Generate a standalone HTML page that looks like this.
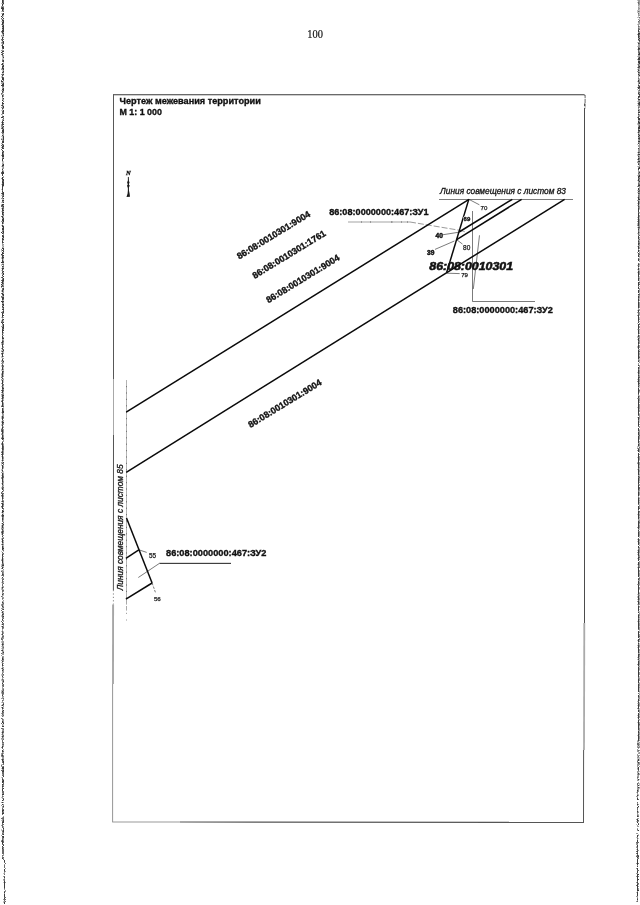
<!DOCTYPE html>
<html lang="ru">
<head>
<meta charset="utf-8">
<title>Чертеж межевания территории</title>
<style>
  html, body { margin: 0; padding: 0; background: #ffffff; }
  body { width: 640px; height: 905px; overflow: hidden; font-family: "Liberation Sans", sans-serif; }
  svg { display: block; position: absolute; left: 0; top: 0; will-change: transform; filter: grayscale(1); }
  text { font-family: "Liberation Sans", sans-serif; fill: #111; }
  .b { font-weight: bold; stroke: #111; stroke-width: 0.36; }
  .i { font-style: italic; }
  .it { font-style: italic; stroke: #1a1a1a; stroke-width: 0.32; }
  .serif { font-family: "Liberation Serif", serif; }
  .thick { stroke: #0a0a0a; stroke-width: 1.5; fill: none; stroke-linecap: butt; }
  .thin { stroke: #333; stroke-width: 0.65; fill: none; }
  .n { stroke: #222; stroke-width: 0.25; }
  .frame { stroke: #333; stroke-width: 1; fill: none; }
</style>
</head>
<body>
<svg width="640" height="905" viewBox="0 0 640 905">
  <rect x="0" y="0" width="640" height="905" fill="#ffffff"/>

  <!-- SCAN-EDGES -->
  <g id="scan-edges" fill="none" stroke-width="1" shape-rendering="crispEdges">
    <path stroke="#3c3c3c" d="M2 0.5h1M2 1.5h1M2 2.5h1M3 3.5h1M2 4.5h1M2 5.5h1M2 7.5h1M2 8.5h1M3 8.5h1M1 8.5h1M2 9.5h1M2 10.5h1M3 13.5h1M2 14.5h1M3 14.5h1M2 15.5h1M1 16.5h1M2 17.5h1M3 18.5h1M2 20.5h1M3 20.5h1M3 21.5h1M2 22.5h1M3 22.5h1M2 23.5h1M2 24.5h1M3 25.5h1M2 26.5h1M3 26.5h1M3 27.5h1M2 28.5h1M3 28.5h1M3 29.5h1M2 30.5h1M3 30.5h1M2 31.5h1M3 31.5h1M2 32.5h1M3 33.5h1M3 35.5h1M2 37.5h1M2 38.5h1M2 40.5h1M3 41.5h1M3 42.5h1M3 43.5h1M2 45.5h1M2 46.5h1M3 46.5h1M2 47.5h1M3 47.5h1M3 48.5h1M2 51.5h1M3 51.5h1M1 52.5h1M2 54.5h1M3 57.5h1M3 60.5h1M3 61.5h1M2 63.5h1M2 64.5h1M3 65.5h1M2 66.5h1M3 66.5h1M2 67.5h1M2 68.5h1M3 68.5h1M3 69.5h1M3 71.5h1M2 72.5h1M3 74.5h1M2 75.5h1M2 77.5h1M2 78.5h1M3 78.5h1M2 79.5h1M3 79.5h1M2 81.5h1M1 81.5h1M3 83.5h1M2 84.5h1M3 84.5h1M2 85.5h1M3 85.5h1M1 85.5h1M3 88.5h1M2 89.5h1M3 89.5h1M3 90.5h1M2 91.5h1M2 95.5h1M2 96.5h1M3 98.5h1M2 100.5h1M2 102.5h1M2 103.5h1M3 103.5h1M2 105.5h1M3 106.5h1M3 107.5h1M2 108.5h1M3 110.5h1M3 111.5h1M3 113.5h1M3 116.5h1M2 117.5h1M1 117.5h1M3 120.5h1M2 121.5h1M2 122.5h1M2 123.5h1M2 124.5h1M3 124.5h1M3 126.5h1M2 127.5h1M2 128.5h1M3 129.5h1M2 130.5h1M3 130.5h1M2 131.5h1M3 131.5h1M3 132.5h1M2 135.5h1M3 136.5h1M3 137.5h1M3 138.5h1M3 139.5h1M2 141.5h1M3 141.5h1M2 142.5h1M3 142.5h1M2 144.5h1M3 145.5h1M2 146.5h1M3 146.5h1M2 147.5h1M2 148.5h1M3 148.5h1M2 150.5h1M3 151.5h1M2 152.5h1M2 153.5h1M2 154.5h1M2 155.5h1M3 155.5h1M2 156.5h1M3 156.5h1M3 158.5h1M2 159.5h1M2 160.5h1M3 164.5h1M2 165.5h1M3 165.5h1M2 169.5h1M2 171.5h1M2 172.5h1M3 172.5h1M2 173.5h1M3 173.5h1M2 174.5h1M2 175.5h1M2 177.5h1M2 178.5h1M2 179.5h1M3 179.5h1M3 180.5h1M2 181.5h1M2 182.5h1M3 182.5h1M3 183.5h1M2 184.5h1M3 184.5h1M2 185.5h1M3 185.5h1M2 186.5h1M2 187.5h1M2 188.5h1M2 189.5h1M2 191.5h1M3 192.5h1M2 193.5h1M3 193.5h1M3 194.5h1M3 196.5h1M3 198.5h1M2 200.5h1M3 200.5h1M3 202.5h1M2 204.5h1M3 204.5h1M2 205.5h1M3 206.5h1M2 208.5h1M2 209.5h1M2 210.5h1M3 210.5h1M2 212.5h1M3 212.5h1M2 213.5h1M2 214.5h1M2 216.5h1M2 217.5h1M3 218.5h1M2 219.5h1M3 219.5h1M2 220.5h1M3 220.5h1M3 221.5h1M2 222.5h1M2 223.5h1M2 225.5h1M2 226.5h1M3 226.5h1M3 227.5h1M2 228.5h1M3 228.5h1M2 229.5h1M3 229.5h1M3 231.5h1M3 232.5h1M1 232.5h1M2 233.5h1M2 235.5h1M2 236.5h1M3 236.5h1M3 237.5h1M2 238.5h1M2 239.5h1M3 239.5h1M2 241.5h1M2 242.5h1M2 248.5h1M3 248.5h1M3 249.5h1M2 250.5h1M3 251.5h1M2 252.5h1M2 253.5h1M3 253.5h1M1 254.5h1M2 255.5h1M3 255.5h1M2 256.5h1M2 257.5h1M3 257.5h1M2 258.5h1M2 260.5h1M2 261.5h1M2 262.5h1M3 262.5h1M1 262.5h1M2 266.5h1M2 268.5h1M3 268.5h1M2 269.5h1M3 271.5h1M2 272.5h1M3 273.5h1M3 274.5h1M2 275.5h1M3 276.5h1M2 277.5h1M3 278.5h1M3 279.5h1M2 280.5h1M3 280.5h1M2 281.5h1M2 282.5h1M2 283.5h1M1 284.5h1M2 285.5h1M1 286.5h1M3 288.5h1M3 289.5h1M2 290.5h1M2 291.5h1M2 293.5h1M2 294.5h1M3 294.5h1M3 295.5h1M2 297.5h1M3 297.5h1M2 298.5h1M3 298.5h1M2 299.5h1M2 301.5h1M3 301.5h1M1 301.5h1M2 302.5h1M2 304.5h1M3 304.5h1M3 305.5h1M2 306.5h1M3 307.5h1M2 309.5h1M3 309.5h1M3 311.5h1M3 312.5h1M2 313.5h1M2 314.5h1M2 315.5h1M3 315.5h1M2 316.5h1M3 319.5h1M2 320.5h1M3 322.5h1M1 322.5h1M2 323.5h1M3 324.5h1M3 325.5h1M3 326.5h1M2 327.5h1M3 327.5h1M3 328.5h1M2 329.5h1M2 330.5h1M3 330.5h1M2 331.5h1M2 332.5h1M2 334.5h1M2 336.5h1M2 337.5h1M2 338.5h1M3 338.5h1M2 341.5h1M2 342.5h1M2 344.5h1M2 345.5h1M2 346.5h1M2 348.5h1M3 350.5h1M2 351.5h1M2 353.5h1M2 354.5h1M2 355.5h1M2 356.5h1M2 359.5h1M2 360.5h1M3 361.5h1M2 365.5h1M2 367.5h1M2 368.5h1M2 369.5h1M2 371.5h1M2 372.5h1M2 373.5h1M2 374.5h1M2 375.5h1M2 376.5h1M2 378.5h1M2 380.5h1M2 381.5h1M2 382.5h1M2 383.5h1M2 385.5h1M2 387.5h1M2 388.5h1M3 388.5h1M2 390.5h1M2 391.5h1M2 392.5h1M2 395.5h1M3 395.5h1M2 396.5h1M2 397.5h1M2 398.5h1M2 400.5h1M2 401.5h1M2 402.5h1M2 403.5h1M2 404.5h1M2 405.5h1M2 406.5h1M2 408.5h1M2 409.5h1M2 410.5h1M2 411.5h1M3 411.5h1M2 412.5h1M3 412.5h1M2 416.5h1M2 417.5h1M2 418.5h1M2 419.5h1M2 421.5h1M2 422.5h1M3 422.5h1M2 423.5h1M2 425.5h1M2 427.5h1M2 428.5h1M2 430.5h1M2 431.5h1M2 432.5h1M2 433.5h1M2 435.5h1M2 436.5h1M2 437.5h1M2 438.5h1M3 438.5h1M2 439.5h1M2 442.5h1M2 443.5h1M2 444.5h1M2 445.5h1M2 446.5h1M2 447.5h1M2 448.5h1M2 449.5h1M2 451.5h1M2 452.5h1M2 453.5h1M2 454.5h1M2 455.5h1M2 456.5h1M2 457.5h1M2 458.5h1M2 460.5h1M3 462.5h1M2 463.5h1M2 465.5h1M2 466.5h1M2 467.5h1M2 468.5h1M2 470.5h1M2 473.5h1M2 474.5h1M2 475.5h1M2 476.5h1M2 477.5h1M2 478.5h1M2 479.5h1M2 480.5h1M2 481.5h1M2 483.5h1M2 484.5h1M2 488.5h1M2 489.5h1M2 491.5h1M2 494.5h1M2 495.5h1M2 496.5h1M2 497.5h1M2 498.5h1M2 501.5h1M2 503.5h1M2 504.5h1M2 505.5h1M2 506.5h1M2 507.5h1M2 508.5h1M2 510.5h1M2 511.5h1M3 511.5h1M2 512.5h1M2 514.5h1M2 515.5h1M3 515.5h1M2 516.5h1M2 518.5h1M2 519.5h1M2 523.5h1M3 524.5h1M2 525.5h1M2 526.5h1M2 527.5h1M2 529.5h1M2 531.5h1M2 532.5h1M2 533.5h1M2 534.5h1M2 536.5h1M2 539.5h1M2 540.5h1M2 541.5h1M2 542.5h1M2 544.5h1M2 546.5h1M2 547.5h1M2 548.5h1M3 548.5h1M2 549.5h1M2 554.5h1M2 555.5h1M2 557.5h1M2 558.5h1M2 559.5h1M2 560.5h1M2 561.5h1M2 562.5h1M2 565.5h1M3 565.5h1M2 567.5h1M2 568.5h1M2 574.5h1M2 577.5h1M2 587.5h1M2 594.5h1M2 602.5h1M2 606.5h1M3 609.5h1M2 612.5h1M2 614.5h1M3 616.5h1M2 619.5h1M2 622.5h1M2 624.5h1M2 626.5h1M2 634.5h1M2 644.5h1M2 650.5h1M3 652.5h1M2 658.5h1M2 659.5h1M2 661.5h1M2 664.5h1M2 665.5h1M2 668.5h1M2 670.5h1M2 676.5h1M3 681.5h1M2 683.5h1M2 691.5h1M2 695.5h1M3 704.5h1M2 705.5h1M2 707.5h1M2 708.5h1M3 710.5h1M2 711.5h1M2 721.5h1M2 722.5h1M3 723.5h1M2 726.5h1M3 726.5h1M2 732.5h1M2 736.5h1M2 746.5h1M2 747.5h1M2 750.5h1M2 751.5h1M2 755.5h1M2 759.5h1M2 760.5h1M3 761.5h1M3 762.5h1M2 767.5h1M3 767.5h1M2 768.5h1M3 768.5h1M3 770.5h1M2 771.5h1M3 771.5h1M3 776.5h1M2 779.5h1M3 780.5h1M2 781.5h1M3 781.5h1M2 782.5h1M2 784.5h1M2 786.5h1M3 788.5h1M2 789.5h1M2 790.5h1M2 794.5h1M3 794.5h1M3 799.5h1M2 800.5h1M2 802.5h1M2 804.5h1M3 806.5h1M2 810.5h1M3 810.5h1M2 811.5h1M2 813.5h1M3 813.5h1M3 820.5h1M3 821.5h1M2 822.5h1M3 822.5h1M3 828.5h1M3 830.5h1M3 831.5h1M3 834.5h1M2 836.5h1M3 836.5h1M3 837.5h1M2 840.5h1M2 841.5h1M2 842.5h1M2 843.5h1M3 845.5h1M2 846.5h1M2 848.5h1M2 858.5h1M4 860.5h1M4 861.5h1M4 869.5h1M4 870.5h1M4 877.5h1M4 881.5h1M4 882.5h1M4 883.5h1M4 884.5h1M4 885.5h1M4 886.5h1M4 887.5h1M4 892.5h1M4 894.5h1M4 895.5h1M4 896.5h1M4 898.5h1M4 902.5h1M4 903.5h1M638 30.5h1M638 31.5h1M638 33.5h1M639 33.5h1M638 34.5h1M638 35.5h1M638 36.5h1M638 37.5h1M639 38.5h1M638 39.5h1M639 40.5h1M638 43.5h1M638 48.5h1M639 48.5h1M638 49.5h1M639 53.5h1M638 54.5h1M639 54.5h1M639 57.5h1M638 58.5h1M639 58.5h1M638 59.5h1M639 59.5h1M638 61.5h1M639 61.5h1M638 62.5h1M639 62.5h1M639 63.5h1M639 66.5h1M638 67.5h1M638 70.5h1M638 72.5h1M638 74.5h1M639 75.5h1M638 80.5h1M638 81.5h1M639 83.5h1M638 85.5h1M639 86.5h1M638 87.5h1M639 87.5h1M638 88.5h1M638 93.5h1M639 94.5h1M638 96.5h1M639 96.5h1M638 97.5h1M638 99.5h1M639 99.5h1M639 102.5h1M638 103.5h1M639 103.5h1M639 104.5h1M638 110.5h1M638 112.5h1M639 112.5h1M638 114.5h1M638 117.5h1M638 118.5h1M639 118.5h1M638 119.5h1M639 119.5h1M638 121.5h1M638 122.5h1M639 122.5h1M639 123.5h1M639 126.5h1M638 127.5h1M639 127.5h1M638 128.5h1M639 128.5h1M638 130.5h1M639 130.5h1M638 132.5h1M638 134.5h1M639 135.5h1M638 136.5h1M638 138.5h1M639 138.5h1M638 141.5h1M639 141.5h1M638 143.5h1M638 148.5h1M638 152.5h1M638 154.5h1M639 154.5h1M638 156.5h1M638 158.5h1M638 159.5h1M638 161.5h1M639 161.5h1M638 164.5h1M639 167.5h1M638 168.5h1M639 168.5h1M638 169.5h1M639 172.5h1M639 175.5h1M638 176.5h1M639 176.5h1M638 177.5h1M638 179.5h1M638 180.5h1M639 181.5h1M638 185.5h1M639 185.5h1M638 188.5h1M638 189.5h1M638 191.5h1M638 193.5h1M638 197.5h1M638 198.5h1M638 199.5h1M639 199.5h1M638 201.5h1M638 202.5h1M638 203.5h1M638 204.5h1M638 206.5h1M638 208.5h1M638 209.5h1M638 210.5h1M638 211.5h1M638 213.5h1M638 214.5h1M638 215.5h1M638 216.5h1M638 217.5h1M638 218.5h1M638 219.5h1M638 220.5h1M638 221.5h1M638 222.5h1M638 223.5h1M638 224.5h1M638 225.5h1M638 227.5h1M638 229.5h1M638 232.5h1M638 236.5h1M638 237.5h1M638 238.5h1M638 241.5h1M638 243.5h1M638 244.5h1M638 246.5h1M638 247.5h1M638 248.5h1M638 250.5h1M638 251.5h1M638 253.5h1M638 255.5h1M638 256.5h1M638 259.5h1M638 260.5h1M638 264.5h1M638 266.5h1M638 268.5h1M638 269.5h1M638 271.5h1M638 272.5h1M638 273.5h1M638 274.5h1M638 275.5h1M638 276.5h1M638 278.5h1M638 279.5h1M638 280.5h1M638 282.5h1M638 283.5h1M638 284.5h1M638 285.5h1M638 287.5h1M638 288.5h1M638 290.5h1M638 291.5h1M638 292.5h1M638 294.5h1M638 296.5h1M638 297.5h1M638 299.5h1M638 300.5h1M638 302.5h1M638 303.5h1M638 304.5h1M638 305.5h1M638 306.5h1M638 307.5h1M638 310.5h1M638 311.5h1M638 315.5h1M638 316.5h1M638 317.5h1M638 318.5h1M638 319.5h1M638 320.5h1M638 322.5h1M638 324.5h1M638 325.5h1M638 326.5h1M638 327.5h1M638 328.5h1M638 330.5h1M638 331.5h1M638 332.5h1M638 333.5h1M638 335.5h1M638 336.5h1M638 338.5h1M638 339.5h1M638 340.5h1M638 342.5h1M638 343.5h1M638 345.5h1M638 346.5h1M638 347.5h1M638 348.5h1M638 350.5h1M638 351.5h1M638 352.5h1M638 353.5h1M638 354.5h1M638 355.5h1M638 356.5h1M638 357.5h1M638 358.5h1M638 361.5h1M638 365.5h1M638 367.5h1M638 368.5h1M638 370.5h1M638 371.5h1M638 372.5h1M638 373.5h1M638 375.5h1M638 377.5h1M638 378.5h1M638 379.5h1M638 380.5h1M638 381.5h1M638 382.5h1M638 383.5h1M638 384.5h1M638 386.5h1M638 388.5h1M638 389.5h1M638 390.5h1M638 391.5h1M638 392.5h1M638 393.5h1M638 396.5h1M638 397.5h1M638 399.5h1M638 400.5h1M638 401.5h1M638 402.5h1M638 403.5h1M638 404.5h1M638 405.5h1M638 406.5h1M638 407.5h1M638 408.5h1M638 409.5h1M638 410.5h1M638 411.5h1M638 412.5h1M638 413.5h1M638 414.5h1M638 417.5h1M638 418.5h1M638 419.5h1M638 421.5h1M638 422.5h1M638 423.5h1M638 424.5h1M638 425.5h1M638 428.5h1M638 429.5h1M638 430.5h1M638 432.5h1M638 433.5h1M638 434.5h1M638 436.5h1M638 437.5h1M638 438.5h1M638 439.5h1M638 440.5h1M638 441.5h1M638 442.5h1M638 444.5h1M638 445.5h1M638 449.5h1M638 450.5h1M638 451.5h1M638 453.5h1M638 454.5h1M638 455.5h1M638 456.5h1M638 457.5h1M638 458.5h1M638 459.5h1M638 460.5h1M638 461.5h1M638 462.5h1M638 463.5h1M638 464.5h1M638 465.5h1M638 466.5h1M638 467.5h1M638 469.5h1M638 470.5h1M638 471.5h1M638 472.5h1M638 473.5h1M638 474.5h1M638 476.5h1M638 478.5h1M638 479.5h1M638 480.5h1M638 481.5h1M638 482.5h1M638 483.5h1M638 485.5h1M638 486.5h1M638 487.5h1M638 488.5h1M638 489.5h1M638 492.5h1M638 493.5h1M638 494.5h1M638 495.5h1M638 498.5h1M638 499.5h1M638 500.5h1M638 501.5h1M638 502.5h1M638 503.5h1M638 506.5h1M638 507.5h1M638 508.5h1M638 509.5h1M638 511.5h1M638 512.5h1M638 513.5h1M638 514.5h1M638 515.5h1M638 516.5h1M638 517.5h1M638 518.5h1M638 521.5h1M638 522.5h1M638 523.5h1M638 524.5h1M638 525.5h1M638 526.5h1M638 527.5h1M638 528.5h1M638 530.5h1M638 532.5h1M638 533.5h1M638 534.5h1M638 535.5h1M638 536.5h1M638 539.5h1M638 540.5h1M638 541.5h1M638 542.5h1M638 543.5h1M638 544.5h1M638 546.5h1M638 547.5h1M638 550.5h1M638 551.5h1M638 552.5h1M638 553.5h1M638 554.5h1M638 555.5h1M638 557.5h1M638 558.5h1M638 559.5h1M638 560.5h1M638 562.5h1M638 563.5h1M638 564.5h1M638 567.5h1M638 568.5h1M638 569.5h1M638 570.5h1M638 571.5h1M638 572.5h1M638 573.5h1M638 574.5h1M638 575.5h1M638 576.5h1M638 579.5h1M638 581.5h1M638 582.5h1M638 583.5h1M638 585.5h1M638 586.5h1M638 587.5h1M638 588.5h1M638 589.5h1M638 590.5h1M638 591.5h1M638 592.5h1M638 593.5h1M638 596.5h1M638 597.5h1M638 598.5h1M638 599.5h1M638 601.5h1M638 602.5h1M638 603.5h1M638 606.5h1M638 607.5h1M638 608.5h1M638 609.5h1M638 610.5h1M638 612.5h1M638 615.5h1M638 616.5h1M638 617.5h1M638 619.5h1M638 620.5h1M638 621.5h1M638 622.5h1M638 623.5h1M638 624.5h1M638 625.5h1M638 626.5h1M638 627.5h1M638 628.5h1M638 631.5h1M638 632.5h1M638 633.5h1M638 634.5h1M638 635.5h1M638 636.5h1M638 637.5h1M638 639.5h1M638 640.5h1M638 641.5h1M638 643.5h1M638 645.5h1M638 646.5h1M638 647.5h1M638 648.5h1M638 649.5h1M638 650.5h1M638 651.5h1M638 652.5h1M638 654.5h1M638 655.5h1M638 656.5h1M638 657.5h1M638 659.5h1M638 661.5h1M638 662.5h1M638 663.5h1M638 664.5h1M638 665.5h1M638 667.5h1M638 668.5h1M638 669.5h1M638 670.5h1M638 671.5h1M638 672.5h1M638 673.5h1M638 674.5h1M638 675.5h1M638 676.5h1M638 679.5h1M638 680.5h1M638 681.5h1M638 682.5h1M638 684.5h1M638 685.5h1M638 686.5h1M638 687.5h1M638 688.5h1M638 689.5h1M638 690.5h1M638 691.5h1M638 695.5h1M638 696.5h1M638 699.5h1M638 700.5h1M638 702.5h1M638 704.5h1M638 705.5h1M638 706.5h1M638 707.5h1M638 708.5h1M638 710.5h1M638 711.5h1M638 713.5h1M638 714.5h1M638 715.5h1M638 716.5h1M638 717.5h1M638 718.5h1M638 720.5h1M638 721.5h1M638 722.5h1M638 723.5h1M638 724.5h1M638 725.5h1M638 726.5h1M638 727.5h1M638 728.5h1M638 729.5h1M638 731.5h1M638 732.5h1M638 734.5h1M638 735.5h1M638 736.5h1M638 737.5h1M638 738.5h1M638 739.5h1M638 740.5h1M638 759.5h1M638 760.5h1M638 762.5h1M638 767.5h1M638 768.5h1M638 769.5h1M638 773.5h1M638 779.5h1M638 785.5h1M638 787.5h1M637 790.5h1M637 795.5h1M637 798.5h1M637 799.5h1M637 804.5h1M638 806.5h1M637 807.5h1M637 811.5h1M637 816.5h1M637 819.5h1M637 820.5h1M637 822.5h1M638 824.5h1M638 830.5h1M637 835.5h1M637 836.5h1M637 840.5h1M637 841.5h1M637 845.5h1M637 846.5h1M637 849.5h1M637 851.5h1M637 853.5h1M637 855.5h1M638 856.5h1M637 857.5h1M637 859.5h1M637 860.5h1M637 861.5h1M637 862.5h1M637 863.5h1M637 864.5h1M637 866.5h1M637 868.5h1M637 869.5h1M637 871.5h1M637 872.5h1M637 874.5h1M638 874.5h1M637 875.5h1M637 876.5h1M637 877.5h1M637 878.5h1M637 879.5h1M638 879.5h1M637 880.5h1M637 882.5h1M637 884.5h1M637 885.5h1M637 886.5h1M637 887.5h1M637 888.5h1M637 889.5h1M637 890.5h1M638 890.5h1M637 892.5h1M637 893.5h1M637 894.5h1M637 895.5h1M637 899.5h1"/>
    <path stroke="#6a6a6a" d="M3 0.5h1M3 1.5h1M3 2.5h1M3 7.5h1M1 7.5h1M3 9.5h1M3 11.5h1M1 18.5h1M2 19.5h1M3 23.5h1M1 31.5h1M2 33.5h1M3 34.5h1M2 39.5h1M3 39.5h1M1 39.5h1M2 42.5h1M2 44.5h1M2 48.5h1M2 53.5h1M3 53.5h1M1 54.5h1M2 55.5h1M2 60.5h1M2 61.5h1M1 64.5h1M3 72.5h1M2 74.5h1M3 77.5h1M3 80.5h1M1 80.5h1M2 86.5h1M3 86.5h1M2 92.5h1M1 93.5h1M3 101.5h1M2 104.5h1M1 105.5h1M2 111.5h1M2 112.5h1M3 112.5h1M2 113.5h1M2 116.5h1M3 118.5h1M3 122.5h1M2 125.5h1M1 128.5h1M2 132.5h1M2 133.5h1M1 139.5h1M3 140.5h1M1 145.5h1M1 149.5h1M3 152.5h1M3 154.5h1M2 158.5h1M2 166.5h1M1 172.5h1M1 173.5h1M2 180.5h1M3 181.5h1M2 183.5h1M2 190.5h1M2 192.5h1M1 193.5h1M2 194.5h1M3 195.5h1M2 196.5h1M2 197.5h1M2 201.5h1M1 205.5h1M2 206.5h1M1 206.5h1M3 207.5h1M3 208.5h1M2 211.5h1M3 214.5h1M3 215.5h1M1 216.5h1M3 230.5h1M2 231.5h1M3 233.5h1M3 235.5h1M2 240.5h1M3 242.5h1M3 250.5h1M2 254.5h1M2 259.5h1M3 261.5h1M2 264.5h1M3 264.5h1M3 266.5h1M2 270.5h1M2 271.5h1M1 277.5h1M2 279.5h1M1 280.5h1M3 281.5h1M1 282.5h1M3 283.5h1M2 286.5h1M3 286.5h1M2 288.5h1M2 289.5h1M1 293.5h1M1 296.5h1M3 299.5h1M2 307.5h1M3 308.5h1M3 310.5h1M2 312.5h1M1 312.5h1M2 317.5h1M2 319.5h1M2 321.5h1M2 322.5h1M2 328.5h1M2 333.5h1M2 340.5h1M3 341.5h1M1 342.5h1M2 343.5h1M2 347.5h1M2 349.5h1M3 349.5h1M1 353.5h1M2 362.5h1M2 364.5h1M2 366.5h1M3 366.5h1M3 371.5h1M1 377.5h1M2 384.5h1M3 384.5h1M2 386.5h1M2 389.5h1M3 390.5h1M1 390.5h1M2 394.5h1M3 397.5h1M2 399.5h1M1 401.5h1M3 406.5h1M1 406.5h1M2 413.5h1M3 417.5h1M2 424.5h1M2 426.5h1M2 429.5h1M1 429.5h1M1 430.5h1M1 431.5h1M2 434.5h1M1 438.5h1M3 446.5h1M3 447.5h1M3 448.5h1M3 449.5h1M2 450.5h1M1 452.5h1M1 454.5h1M2 459.5h1M3 464.5h1M2 471.5h1M3 476.5h1M3 477.5h1M2 482.5h1M2 486.5h1M2 487.5h1M3 487.5h1M3 490.5h1M1 492.5h1M2 493.5h1M3 493.5h1M1 493.5h1M1 495.5h1M2 499.5h1M2 500.5h1M3 501.5h1M1 503.5h1M3 504.5h1M1 506.5h1M3 508.5h1M3 516.5h1M2 517.5h1M2 520.5h1M2 521.5h1M3 522.5h1M2 530.5h1M3 531.5h1M1 532.5h1M2 538.5h1M3 538.5h1M3 550.5h1M2 552.5h1M3 553.5h1M2 556.5h1M2 563.5h1M2 564.5h1M3 564.5h1M1 571.5h1M2 572.5h1M2 573.5h1M3 574.5h1M2 575.5h1M3 575.5h1M2 579.5h1M3 579.5h1M2 580.5h1M2 581.5h1M2 582.5h1M3 583.5h1M2 584.5h1M2 585.5h1M2 588.5h1M2 590.5h1M3 590.5h1M2 591.5h1M3 593.5h1M1 596.5h1M2 598.5h1M3 603.5h1M2 604.5h1M2 605.5h1M3 607.5h1M2 609.5h1M1 610.5h1M2 611.5h1M3 613.5h1M3 614.5h1M2 615.5h1M2 616.5h1M2 617.5h1M3 618.5h1M2 620.5h1M1 621.5h1M3 623.5h1M3 624.5h1M2 627.5h1M3 627.5h1M2 628.5h1M2 631.5h1M2 632.5h1M2 633.5h1M2 636.5h1M3 636.5h1M2 637.5h1M1 638.5h1M2 639.5h1M1 639.5h1M2 643.5h1M3 644.5h1M2 645.5h1M3 647.5h1M1 650.5h1M1 653.5h1M2 657.5h1M3 659.5h1M2 663.5h1M3 669.5h1M2 673.5h1M3 674.5h1M2 679.5h1M3 680.5h1M3 684.5h1M2 685.5h1M3 685.5h1M3 686.5h1M3 689.5h1M3 690.5h1M2 692.5h1M3 692.5h1M2 693.5h1M3 693.5h1M2 694.5h1M3 698.5h1M2 700.5h1M3 703.5h1M2 712.5h1M3 712.5h1M2 713.5h1M2 714.5h1M3 715.5h1M2 716.5h1M1 718.5h1M2 719.5h1M3 722.5h1M1 723.5h1M2 728.5h1M1 728.5h1M3 729.5h1M2 731.5h1M3 731.5h1M3 732.5h1M2 733.5h1M2 734.5h1M3 735.5h1M3 736.5h1M2 737.5h1M3 739.5h1M2 740.5h1M2 741.5h1M2 742.5h1M3 742.5h1M2 744.5h1M3 744.5h1M2 748.5h1M3 751.5h1M2 753.5h1M2 754.5h1M1 755.5h1M2 756.5h1M3 756.5h1M3 759.5h1M2 761.5h1M2 762.5h1M3 763.5h1M3 764.5h1M1 765.5h1M3 766.5h1M3 769.5h1M2 770.5h1M1 770.5h1M2 772.5h1M3 772.5h1M2 773.5h1M3 773.5h1M3 774.5h1M2 775.5h1M3 775.5h1M2 778.5h1M2 780.5h1M3 782.5h1M3 783.5h1M3 784.5h1M2 785.5h1M3 786.5h1M2 787.5h1M2 788.5h1M2 791.5h1M3 791.5h1M2 792.5h1M3 792.5h1M3 793.5h1M2 796.5h1M3 798.5h1M2 808.5h1M2 809.5h1M3 809.5h1M2 812.5h1M3 812.5h1M2 814.5h1M3 817.5h1M2 818.5h1M3 818.5h1M1 818.5h1M3 819.5h1M2 821.5h1M2 823.5h1M2 824.5h1M3 824.5h1M2 825.5h1M2 826.5h1M2 827.5h1M3 829.5h1M2 831.5h1M3 832.5h1M2 833.5h1M2 834.5h1M2 837.5h1M2 838.5h1M2 839.5h1M3 841.5h1M1 841.5h1M3 842.5h1M2 844.5h1M3 844.5h1M2 847.5h1M3 847.5h1M2 849.5h1M3 849.5h1M2 850.5h1M3 850.5h1M2 851.5h1M3 851.5h1M2 852.5h1M3 852.5h1M2 853.5h1M3 853.5h1M2 855.5h1M2 857.5h1M3 857.5h1M3 859.5h1M4 862.5h1M5 863.5h1M4 865.5h1M4 866.5h1M4 867.5h1M4 871.5h1M4 874.5h1M4 876.5h1M4 879.5h1M4 880.5h1M4 888.5h1M4 891.5h1M4 897.5h1M5 897.5h1M4 899.5h1M5 899.5h1M4 900.5h1M5 901.5h1M638 2.5h1M638 3.5h1M638 11.5h1M638 13.5h1M639 17.5h1M639 20.5h1M638 21.5h1M638 26.5h1M638 28.5h1M638 29.5h1M639 29.5h1M639 34.5h1M639 36.5h1M639 41.5h1M639 43.5h1M638 47.5h1M639 49.5h1M638 50.5h1M638 51.5h1M638 52.5h1M639 52.5h1M638 64.5h1M638 65.5h1M638 66.5h1M639 67.5h1M638 69.5h1M639 72.5h1M638 78.5h1M639 82.5h1M639 88.5h1M639 90.5h1M638 92.5h1M639 92.5h1M639 95.5h1M638 104.5h1M639 105.5h1M638 107.5h1M638 116.5h1M638 123.5h1M639 125.5h1M638 129.5h1M638 131.5h1M639 131.5h1M639 137.5h1M639 139.5h1M639 152.5h1M639 158.5h1M638 163.5h1M638 173.5h1M638 178.5h1M639 178.5h1M638 183.5h1M638 184.5h1M639 184.5h1M638 186.5h1M639 190.5h1M639 191.5h1M639 193.5h1M638 195.5h1M638 196.5h1M638 205.5h1M638 207.5h1M638 212.5h1M639 227.5h1M638 228.5h1M638 230.5h1M638 231.5h1M638 233.5h1M638 234.5h1M639 235.5h1M639 239.5h1M638 240.5h1M638 242.5h1M639 243.5h1M638 254.5h1M639 254.5h1M638 258.5h1M638 263.5h1M638 265.5h1M638 277.5h1M639 282.5h1M639 284.5h1M639 294.5h1M638 298.5h1M638 301.5h1M638 312.5h1M638 313.5h1M638 314.5h1M638 321.5h1M639 324.5h1M638 329.5h1M638 341.5h1M638 344.5h1M639 351.5h1M639 357.5h1M638 360.5h1M638 369.5h1M638 374.5h1M638 376.5h1M639 377.5h1M639 383.5h1M638 385.5h1M639 390.5h1M638 394.5h1M638 398.5h1M638 415.5h1M638 420.5h1M638 426.5h1M639 435.5h1M639 447.5h1M638 448.5h1M638 468.5h1M638 477.5h1M639 477.5h1M638 484.5h1M639 487.5h1M639 488.5h1M638 490.5h1M638 491.5h1M638 497.5h1M638 504.5h1M639 508.5h1M639 511.5h1M639 522.5h1M638 531.5h1M638 538.5h1M638 549.5h1M638 556.5h1M639 557.5h1M638 565.5h1M638 566.5h1M639 567.5h1M638 578.5h1M639 578.5h1M638 584.5h1M638 594.5h1M638 595.5h1M638 600.5h1M638 604.5h1M638 614.5h1M638 618.5h1M638 629.5h1M639 636.5h1M639 639.5h1M638 644.5h1M639 654.5h1M638 658.5h1M638 677.5h1M638 678.5h1M638 693.5h1M638 697.5h1M638 701.5h1M638 703.5h1M639 724.5h1M638 733.5h1M637 743.5h1M638 743.5h1M637 744.5h1M638 744.5h1M638 745.5h1M638 747.5h1M638 750.5h1M638 756.5h1M637 761.5h1M638 763.5h1M638 770.5h1M638 774.5h1M637 777.5h1M637 783.5h1M637 784.5h1M637 791.5h1M637 792.5h1M638 799.5h1M637 802.5h1M637 808.5h1M637 809.5h1M637 812.5h1M637 815.5h1M638 816.5h1M638 820.5h1M637 821.5h1M638 823.5h1M637 829.5h1M637 838.5h1M637 842.5h1M638 842.5h1M636 842.5h1M637 843.5h1M637 847.5h1M637 848.5h1M637 850.5h1M636 851.5h1M637 852.5h1M636 853.5h1M637 854.5h1M638 855.5h1M637 856.5h1M636 856.5h1M638 858.5h1M638 863.5h1M637 870.5h1M638 870.5h1M638 876.5h1M637 881.5h1M637 883.5h1M638 883.5h1M636 885.5h1M637 898.5h1M637 901.5h1"/>
    <path stroke="#9a9a9a" d="M2 3.5h1M2 6.5h1M3 6.5h1M1 6.5h1M3 10.5h1M2 11.5h1M2 13.5h1M2 21.5h1M3 24.5h1M1 24.5h1M2 25.5h1M2 27.5h1M2 29.5h1M3 32.5h1M1 35.5h1M3 37.5h1M2 41.5h1M1 42.5h1M2 43.5h1M1 45.5h1M2 50.5h1M3 50.5h1M1 50.5h1M2 52.5h1M3 55.5h1M2 56.5h1M3 56.5h1M2 59.5h1M3 63.5h1M2 65.5h1M3 67.5h1M2 69.5h1M1 69.5h1M3 70.5h1M1 74.5h1M2 76.5h1M2 82.5h1M3 82.5h1M2 83.5h1M1 83.5h1M2 87.5h1M2 88.5h1M2 90.5h1M3 91.5h1M3 92.5h1M2 93.5h1M3 94.5h1M1 94.5h1M3 95.5h1M3 96.5h1M2 97.5h1M2 98.5h1M2 99.5h1M3 99.5h1M2 106.5h1M2 107.5h1M1 107.5h1M3 108.5h1M2 109.5h1M1 114.5h1M3 117.5h1M2 119.5h1M3 119.5h1M2 120.5h1M1 122.5h1M1 124.5h1M1 125.5h1M2 126.5h1M1 126.5h1M3 127.5h1M3 128.5h1M2 129.5h1M1 132.5h1M3 133.5h1M3 134.5h1M3 135.5h1M2 139.5h1M2 140.5h1M1 143.5h1M3 144.5h1M2 145.5h1M3 147.5h1M1 147.5h1M2 151.5h1M3 153.5h1M1 155.5h1M2 157.5h1M3 157.5h1M2 161.5h1M2 163.5h1M2 164.5h1M3 166.5h1M3 167.5h1M2 168.5h1M3 168.5h1M2 170.5h1M3 171.5h1M3 176.5h1M3 177.5h1M1 178.5h1M2 195.5h1M2 198.5h1M1 198.5h1M3 201.5h1M2 202.5h1M3 205.5h1M2 207.5h1M3 209.5h1M3 213.5h1M3 217.5h1M2 218.5h1M2 221.5h1M1 221.5h1M3 222.5h1M3 223.5h1M2 230.5h1M3 234.5h1M3 238.5h1M2 243.5h1M2 244.5h1M3 244.5h1M2 245.5h1M3 246.5h1M2 247.5h1M1 249.5h1M3 252.5h1M3 256.5h1M3 258.5h1M3 265.5h1M2 267.5h1M3 267.5h1M2 273.5h1M2 274.5h1M2 278.5h1M3 282.5h1M2 284.5h1M3 284.5h1M3 285.5h1M1 287.5h1M3 290.5h1M3 291.5h1M3 292.5h1M2 295.5h1M2 296.5h1M3 296.5h1M1 297.5h1M2 300.5h1M3 302.5h1M2 303.5h1M3 303.5h1M2 305.5h1M2 311.5h1M3 313.5h1M3 317.5h1M1 321.5h1M2 324.5h1M2 325.5h1M2 326.5h1M1 326.5h1M3 329.5h1M3 332.5h1M2 335.5h1M3 335.5h1M3 337.5h1M2 339.5h1M3 340.5h1M3 342.5h1M3 343.5h1M3 344.5h1M3 347.5h1M1 348.5h1M3 351.5h1M1 351.5h1M2 352.5h1M3 353.5h1M3 356.5h1M2 358.5h1M3 358.5h1M2 361.5h1M1 361.5h1M3 362.5h1M2 363.5h1M1 363.5h1M3 365.5h1M3 369.5h1M3 372.5h1M3 373.5h1M1 374.5h1M3 376.5h1M2 377.5h1M3 379.5h1M1 379.5h1M1 383.5h1M3 385.5h1M3 387.5h1M3 389.5h1M3 391.5h1M1 392.5h1M2 393.5h1M3 393.5h1M3 394.5h1M1 394.5h1M3 396.5h1M3 398.5h1M1 398.5h1M3 400.5h1M3 403.5h1M3 404.5h1M3 405.5h1M3 408.5h1M3 409.5h1M3 410.5h1M2 414.5h1M3 414.5h1M2 415.5h1M3 415.5h1M3 416.5h1M3 418.5h1M2 420.5h1M3 420.5h1M3 423.5h1M3 424.5h1M3 427.5h1M3 429.5h1M3 430.5h1M3 431.5h1M3 432.5h1M1 434.5h1M3 435.5h1M3 436.5h1M3 437.5h1M3 439.5h1M3 440.5h1M2 441.5h1M3 441.5h1M1 443.5h1M3 444.5h1M1 444.5h1M3 445.5h1M3 450.5h1M3 451.5h1M3 452.5h1M3 453.5h1M3 454.5h1M3 457.5h1M3 458.5h1M3 460.5h1M2 461.5h1M2 462.5h1M1 462.5h1M3 463.5h1M3 466.5h1M3 467.5h1M2 469.5h1M1 472.5h1M3 473.5h1M3 474.5h1M3 475.5h1M1 477.5h1M1 478.5h1M3 481.5h1M3 482.5h1M2 485.5h1M3 485.5h1M3 488.5h1M3 489.5h1M3 495.5h1M3 496.5h1M3 498.5h1M3 500.5h1M1 501.5h1M3 502.5h1M3 503.5h1M3 505.5h1M3 506.5h1M3 509.5h1M3 510.5h1M1 515.5h1M3 517.5h1M3 518.5h1M3 519.5h1M2 524.5h1M3 525.5h1M3 527.5h1M2 528.5h1M3 528.5h1M1 528.5h1M3 530.5h1M1 531.5h1M3 532.5h1M3 533.5h1M2 535.5h1M3 535.5h1M3 537.5h1M3 540.5h1M3 542.5h1M2 543.5h1M3 544.5h1M1 544.5h1M2 545.5h1M3 546.5h1M3 547.5h1M3 549.5h1M2 553.5h1M3 554.5h1M3 556.5h1M1 560.5h1M3 563.5h1M2 566.5h1M1 566.5h1M3 567.5h1M1 568.5h1M3 569.5h1M2 570.5h1M2 571.5h1M3 571.5h1M3 572.5h1M3 573.5h1M1 575.5h1M3 576.5h1M2 578.5h1M3 578.5h1M3 581.5h1M2 583.5h1M2 586.5h1M3 586.5h1M3 587.5h1M2 589.5h1M3 591.5h1M2 592.5h1M2 593.5h1M3 594.5h1M2 595.5h1M2 596.5h1M2 597.5h1M3 597.5h1M3 598.5h1M2 599.5h1M3 600.5h1M2 601.5h1M3 602.5h1M2 603.5h1M3 604.5h1M1 604.5h1M1 605.5h1M3 606.5h1M2 607.5h1M2 608.5h1M1 608.5h1M3 611.5h1M2 613.5h1M3 617.5h1M2 618.5h1M3 620.5h1M3 621.5h1M2 623.5h1M3 625.5h1M3 626.5h1M1 626.5h1M3 628.5h1M2 629.5h1M2 630.5h1M3 632.5h1M3 633.5h1M1 634.5h1M2 635.5h1M3 635.5h1M3 637.5h1M2 638.5h1M3 638.5h1M2 640.5h1M2 641.5h1M3 641.5h1M2 642.5h1M3 642.5h1M3 643.5h1M2 646.5h1M3 646.5h1M2 647.5h1M2 648.5h1M3 648.5h1M2 649.5h1M2 651.5h1M3 651.5h1M2 652.5h1M2 653.5h1M3 653.5h1M2 654.5h1M3 654.5h1M1 655.5h1M2 656.5h1M3 656.5h1M3 657.5h1M3 658.5h1M2 660.5h1M3 660.5h1M1 660.5h1M3 661.5h1M2 662.5h1M3 663.5h1M3 665.5h1M2 666.5h1M2 667.5h1M3 667.5h1M1 668.5h1M2 669.5h1M3 670.5h1M2 671.5h1M3 671.5h1M2 672.5h1M3 672.5h1M2 674.5h1M2 675.5h1M3 675.5h1M2 677.5h1M3 677.5h1M2 678.5h1M3 679.5h1M2 680.5h1M2 681.5h1M2 682.5h1M3 682.5h1M2 684.5h1M2 686.5h1M2 687.5h1M2 688.5h1M3 688.5h1M2 689.5h1M2 690.5h1M3 691.5h1M1 692.5h1M3 694.5h1M2 696.5h1M3 696.5h1M2 697.5h1M2 698.5h1M1 698.5h1M3 699.5h1M3 700.5h1M2 701.5h1M2 702.5h1M3 702.5h1M2 704.5h1M3 705.5h1M1 705.5h1M3 706.5h1M1 707.5h1M3 708.5h1M2 709.5h1M2 710.5h1M3 711.5h1M3 713.5h1M1 713.5h1M3 714.5h1M2 715.5h1M2 718.5h1M3 719.5h1M2 720.5h1M3 720.5h1M3 721.5h1M2 724.5h1M2 725.5h1M3 728.5h1M2 729.5h1M2 730.5h1M3 730.5h1M2 735.5h1M2 738.5h1M3 738.5h1M1 738.5h1M2 739.5h1M2 743.5h1M3 743.5h1M2 745.5h1M3 745.5h1M3 746.5h1M1 747.5h1M3 749.5h1M2 752.5h1M3 753.5h1M1 753.5h1M1 754.5h1M3 755.5h1M1 756.5h1M2 757.5h1M3 757.5h1M2 758.5h1M3 758.5h1M1 759.5h1M3 760.5h1M2 764.5h1M2 766.5h1M1 766.5h1M2 769.5h1M2 774.5h1M2 777.5h1M3 779.5h1M3 785.5h1M2 793.5h1M2 795.5h1M3 796.5h1M2 797.5h1M2 798.5h1M3 800.5h1M3 802.5h1M1 802.5h1M3 804.5h1M3 805.5h1M1 805.5h1M2 806.5h1M2 807.5h1M3 807.5h1M3 811.5h1M3 816.5h1M2 817.5h1M2 819.5h1M2 820.5h1M1 825.5h1M3 826.5h1M3 827.5h1M2 830.5h1M2 832.5h1M3 833.5h1M1 835.5h1M3 838.5h1M3 839.5h1M3 840.5h1M1 840.5h1M3 848.5h1M3 854.5h1M3 855.5h1M2 856.5h1M3 858.5h1M4 864.5h1M5 868.5h1M5 871.5h1M4 872.5h1M4 873.5h1M3 876.5h1M4 878.5h1M3 879.5h1M5 882.5h1M4 889.5h1M5 890.5h1M5 891.5h1M4 893.5h1M3 899.5h1M4 901.5h1M638 0.5h1M639 0.5h1M638 1.5h1M639 1.5h1M639 2.5h1M639 3.5h1M638 4.5h1M639 4.5h1M638 5.5h1M638 7.5h1M638 8.5h1M639 8.5h1M638 9.5h1M639 11.5h1M638 14.5h1M638 15.5h1M639 15.5h1M638 19.5h1M639 21.5h1M638 22.5h1M639 22.5h1M639 23.5h1M638 24.5h1M638 25.5h1M639 26.5h1M638 27.5h1M639 28.5h1M639 31.5h1M638 32.5h1M639 32.5h1M637 34.5h1M639 35.5h1M639 37.5h1M638 38.5h1M639 39.5h1M638 40.5h1M638 42.5h1M639 42.5h1M638 44.5h1M639 44.5h1M638 45.5h1M639 45.5h1M638 46.5h1M639 46.5h1M639 47.5h1M639 51.5h1M638 53.5h1M638 55.5h1M639 55.5h1M638 56.5h1M639 56.5h1M638 57.5h1M637 59.5h1M638 60.5h1M639 60.5h1M638 63.5h1M639 64.5h1M639 65.5h1M637 67.5h1M638 68.5h1M639 68.5h1M639 70.5h1M638 71.5h1M637 71.5h1M638 73.5h1M639 73.5h1M639 74.5h1M638 75.5h1M638 76.5h1M638 77.5h1M638 79.5h1M639 79.5h1M639 80.5h1M639 81.5h1M638 82.5h1M638 83.5h1M638 84.5h1M639 85.5h1M638 86.5h1M637 87.5h1M639 89.5h1M638 90.5h1M638 91.5h1M639 93.5h1M638 94.5h1M639 97.5h1M638 98.5h1M638 100.5h1M639 100.5h1M638 101.5h1M639 101.5h1M638 102.5h1M638 105.5h1M638 106.5h1M639 106.5h1M639 107.5h1M638 108.5h1M638 109.5h1M639 109.5h1M639 110.5h1M638 111.5h1M639 111.5h1M638 113.5h1M639 114.5h1M638 115.5h1M639 115.5h1M639 116.5h1M637 117.5h1M638 120.5h1M639 120.5h1M639 121.5h1M638 124.5h1M639 124.5h1M638 125.5h1M638 126.5h1M639 132.5h1M638 133.5h1M639 134.5h1M638 135.5h1M639 136.5h1M638 137.5h1M638 139.5h1M638 140.5h1M639 140.5h1M638 142.5h1M639 142.5h1M639 143.5h1M639 144.5h1M638 145.5h1M639 145.5h1M638 146.5h1M639 146.5h1M639 147.5h1M639 148.5h1M638 149.5h1M639 149.5h1M638 150.5h1M639 150.5h1M638 151.5h1M639 151.5h1M638 153.5h1M638 155.5h1M639 156.5h1M638 157.5h1M639 157.5h1M639 159.5h1M637 159.5h1M638 160.5h1M639 160.5h1M638 162.5h1M639 162.5h1M637 162.5h1M639 163.5h1M639 164.5h1M639 165.5h1M638 166.5h1M639 166.5h1M638 167.5h1M638 170.5h1M638 171.5h1M639 171.5h1M638 172.5h1M639 173.5h1M638 174.5h1M639 174.5h1M638 175.5h1M639 177.5h1M639 179.5h1M639 180.5h1M638 181.5h1M638 182.5h1M639 182.5h1M639 183.5h1M639 186.5h1M637 186.5h1M639 187.5h1M639 188.5h1M639 189.5h1M638 190.5h1M638 192.5h1M639 192.5h1M638 194.5h1M639 194.5h1M639 195.5h1M639 196.5h1M639 197.5h1M639 198.5h1M638 200.5h1M637 200.5h1M639 201.5h1M639 202.5h1M639 203.5h1M639 206.5h1M639 207.5h1M639 208.5h1M639 212.5h1M639 215.5h1M639 216.5h1M639 219.5h1M639 220.5h1M639 221.5h1M637 221.5h1M639 222.5h1M639 223.5h1M639 224.5h1M639 225.5h1M637 225.5h1M638 226.5h1M639 226.5h1M639 228.5h1M639 232.5h1M638 235.5h1M639 237.5h1M638 239.5h1M639 241.5h1M639 242.5h1M639 244.5h1M638 245.5h1M639 245.5h1M639 247.5h1M639 248.5h1M638 249.5h1M639 250.5h1M639 252.5h1M637 252.5h1M639 253.5h1M639 256.5h1M639 259.5h1M639 261.5h1M639 264.5h1M638 267.5h1M638 270.5h1M639 271.5h1M639 272.5h1M639 273.5h1M639 274.5h1M639 278.5h1M638 286.5h1M639 288.5h1M639 289.5h1M639 290.5h1M639 291.5h1M639 293.5h1M638 295.5h1M639 295.5h1M639 296.5h1M639 297.5h1M639 300.5h1M639 302.5h1M639 303.5h1M639 304.5h1M639 305.5h1M639 306.5h1M639 307.5h1M638 308.5h1M638 309.5h1M639 309.5h1M639 310.5h1M639 312.5h1M637 312.5h1M639 313.5h1M639 314.5h1M637 315.5h1M639 319.5h1M639 321.5h1M639 323.5h1M639 326.5h1M639 327.5h1M639 329.5h1M639 333.5h1M638 334.5h1M639 335.5h1M639 336.5h1M638 337.5h1M639 337.5h1M639 338.5h1M639 340.5h1M639 341.5h1M639 342.5h1M639 343.5h1M639 345.5h1M639 346.5h1M639 347.5h1M638 349.5h1M639 349.5h1M639 353.5h1M639 354.5h1M639 356.5h1M638 359.5h1M639 360.5h1M639 362.5h1M638 363.5h1M638 364.5h1M639 365.5h1M639 366.5h1M639 367.5h1M639 368.5h1M639 370.5h1M639 371.5h1M639 372.5h1M639 373.5h1M639 375.5h1M639 376.5h1M639 379.5h1M639 380.5h1M639 381.5h1M637 381.5h1M639 385.5h1M638 387.5h1M639 391.5h1M638 395.5h1M639 396.5h1M639 398.5h1M637 398.5h1M639 399.5h1M639 400.5h1M639 402.5h1M639 404.5h1M639 405.5h1M639 406.5h1M639 407.5h1M639 408.5h1M639 410.5h1M639 411.5h1M639 414.5h1M639 415.5h1M639 416.5h1M639 417.5h1M639 418.5h1M639 424.5h1M639 426.5h1M639 427.5h1M639 430.5h1M638 431.5h1M639 431.5h1M639 432.5h1M639 433.5h1M639 434.5h1M638 435.5h1M639 436.5h1M639 437.5h1M639 438.5h1M639 441.5h1M638 443.5h1M639 443.5h1M639 444.5h1M639 445.5h1M638 446.5h1M639 448.5h1M637 448.5h1M639 449.5h1M639 450.5h1M637 450.5h1M639 451.5h1M639 454.5h1M639 456.5h1M639 457.5h1M639 458.5h1M639 459.5h1M639 462.5h1M639 463.5h1M637 463.5h1M639 464.5h1M639 467.5h1M639 470.5h1M639 471.5h1M639 474.5h1M638 475.5h1M639 476.5h1M639 478.5h1M639 479.5h1M639 480.5h1M639 482.5h1M639 484.5h1M639 485.5h1M639 489.5h1M639 490.5h1M639 492.5h1M639 493.5h1M639 494.5h1M638 496.5h1M639 498.5h1M639 500.5h1M639 502.5h1M639 505.5h1M639 506.5h1M639 507.5h1M638 510.5h1M639 512.5h1M639 514.5h1M639 515.5h1M639 517.5h1M638 519.5h1M638 520.5h1M639 520.5h1M639 521.5h1M639 523.5h1M639 525.5h1M639 526.5h1M639 527.5h1M637 527.5h1M638 529.5h1M639 531.5h1M639 532.5h1M639 533.5h1M639 534.5h1M639 535.5h1M639 539.5h1M639 540.5h1M639 542.5h1M639 543.5h1M639 545.5h1M639 547.5h1M638 548.5h1M639 548.5h1M639 549.5h1M639 550.5h1M639 551.5h1M639 552.5h1M637 552.5h1M639 555.5h1M639 556.5h1M639 559.5h1M639 561.5h1M639 562.5h1M639 563.5h1M639 564.5h1M639 565.5h1M639 566.5h1M639 570.5h1M639 571.5h1M639 573.5h1M639 574.5h1M639 575.5h1M639 577.5h1M639 579.5h1M638 580.5h1M639 580.5h1M639 582.5h1M639 583.5h1M639 584.5h1M637 584.5h1M639 587.5h1M639 588.5h1M639 593.5h1M639 595.5h1M639 598.5h1M639 599.5h1M637 601.5h1M639 602.5h1M639 603.5h1M639 604.5h1M638 605.5h1M639 606.5h1M638 611.5h1M639 613.5h1M639 614.5h1M639 615.5h1M639 617.5h1M639 619.5h1M639 621.5h1M639 623.5h1M639 624.5h1M639 625.5h1M639 627.5h1M639 628.5h1M639 629.5h1M639 632.5h1M639 634.5h1M639 635.5h1M639 638.5h1M639 641.5h1M638 642.5h1M639 645.5h1M639 646.5h1M639 649.5h1M639 650.5h1M639 652.5h1M638 653.5h1M639 655.5h1M639 656.5h1M639 658.5h1M638 660.5h1M639 660.5h1M639 661.5h1M639 662.5h1M639 663.5h1M639 664.5h1M637 664.5h1M638 666.5h1M639 666.5h1M639 668.5h1M639 669.5h1M639 672.5h1M639 673.5h1M639 674.5h1M639 678.5h1M639 679.5h1M639 680.5h1M638 683.5h1M639 683.5h1M639 684.5h1M639 685.5h1M639 687.5h1M639 691.5h1M639 694.5h1M639 696.5h1M639 697.5h1M638 698.5h1M639 698.5h1M639 700.5h1M639 703.5h1M639 704.5h1M639 705.5h1M637 708.5h1M638 709.5h1M639 710.5h1M639 711.5h1M639 712.5h1M639 714.5h1M639 716.5h1M639 717.5h1M638 719.5h1M639 719.5h1M639 722.5h1M639 723.5h1M639 725.5h1M639 728.5h1M639 729.5h1M638 730.5h1M639 730.5h1M639 732.5h1M639 733.5h1M639 734.5h1M639 736.5h1M639 737.5h1M639 738.5h1M639 740.5h1M637 741.5h1M638 741.5h1M639 742.5h1M639 744.5h1M637 746.5h1M639 746.5h1M637 747.5h1M639 747.5h1M638 748.5h1M637 749.5h1M637 750.5h1M639 750.5h1M637 751.5h1M638 751.5h1M639 752.5h1M638 753.5h1M639 753.5h1M637 754.5h1M637 755.5h1M638 755.5h1M639 755.5h1M637 757.5h1M638 757.5h1M637 760.5h1M637 762.5h1M639 762.5h1M639 763.5h1M637 764.5h1M638 764.5h1M639 764.5h1M637 765.5h1M638 765.5h1M637 766.5h1M639 766.5h1M637 768.5h1M637 771.5h1M638 771.5h1M637 772.5h1M637 774.5h1M639 774.5h1M638 775.5h1M637 776.5h1M638 776.5h1M638 777.5h1M637 778.5h1M637 780.5h1M638 780.5h1M638 782.5h1M638 783.5h1M637 785.5h1M637 786.5h1M637 787.5h1M639 787.5h1M637 788.5h1M638 788.5h1M637 789.5h1M638 789.5h1M638 790.5h1M638 791.5h1M637 793.5h1M637 794.5h1M638 795.5h1M637 796.5h1M636 796.5h1M637 797.5h1M637 803.5h1M638 804.5h1M637 805.5h1M637 810.5h1M638 812.5h1M637 813.5h1M637 814.5h1M638 815.5h1M637 818.5h1M638 818.5h1M636 819.5h1M638 821.5h1M637 825.5h1M637 826.5h1M638 826.5h1M637 828.5h1M637 830.5h1M637 833.5h1M636 833.5h1M638 835.5h1M637 837.5h1M637 839.5h1M636 843.5h1M637 844.5h1M636 844.5h1M636 847.5h1M638 850.5h1M638 857.5h1M637 858.5h1M636 863.5h1M637 865.5h1M636 868.5h1M637 873.5h1M636 873.5h1M636 876.5h1M636 882.5h1M638 884.5h1M638 886.5h1M638 888.5h1M638 889.5h1M637 891.5h1M637 896.5h1M636 896.5h1M637 897.5h1M637 900.5h1M636 901.5h1"/>
    <path stroke="#c2c2c2" d="M1 3.5h1M3 4.5h1M1 11.5h1M1 13.5h1M3 15.5h1M2 16.5h1M3 16.5h1M3 19.5h1M1 19.5h1M1 21.5h1M1 32.5h1M2 34.5h1M2 35.5h1M2 36.5h1M3 36.5h1M1 36.5h1M1 40.5h1M1 43.5h1M3 44.5h1M2 49.5h1M2 57.5h1M2 58.5h1M3 58.5h1M3 59.5h1M3 62.5h1M3 64.5h1M1 68.5h1M2 70.5h1M2 71.5h1M2 73.5h1M3 73.5h1M3 75.5h1M1 76.5h1M1 77.5h1M3 81.5h1M1 82.5h1M3 87.5h1M1 90.5h1M2 94.5h1M3 100.5h1M3 104.5h1M3 105.5h1M2 110.5h1M1 110.5h1M2 114.5h1M2 115.5h1M3 123.5h1M1 127.5h1M2 134.5h1M2 136.5h1M1 136.5h1M2 137.5h1M2 138.5h1M1 138.5h1M2 143.5h1M3 161.5h1M2 162.5h1M3 162.5h1M3 163.5h1M1 166.5h1M2 167.5h1M3 170.5h1M1 184.5h1M3 186.5h1M1 189.5h1M1 195.5h1M2 199.5h1M3 199.5h1M1 202.5h1M1 204.5h1M1 208.5h1M3 211.5h1M1 211.5h1M2 215.5h1M3 216.5h1M2 224.5h1M3 225.5h1M1 225.5h1M2 227.5h1M2 232.5h1M2 237.5h1M3 240.5h1M3 245.5h1M2 246.5h1M3 247.5h1M1 250.5h1M1 251.5h1M1 255.5h1M1 257.5h1M1 258.5h1M3 259.5h1M3 260.5h1M2 263.5h1M3 263.5h1M1 264.5h1M1 265.5h1M1 268.5h1M3 269.5h1M1 270.5h1M3 272.5h1M1 273.5h1M2 276.5h1M1 285.5h1M3 287.5h1M1 290.5h1M1 291.5h1M2 292.5h1M3 293.5h1M3 300.5h1M3 306.5h1M2 308.5h1M1 317.5h1M2 318.5h1M3 320.5h1M1 320.5h1M3 321.5h1M3 333.5h1M3 339.5h1M1 343.5h1M1 344.5h1M3 346.5h1M2 350.5h1M1 350.5h1M3 352.5h1M1 354.5h1M1 356.5h1M2 357.5h1M1 357.5h1M3 360.5h1M1 360.5h1M3 363.5h1M1 365.5h1M1 366.5h1M3 367.5h1M3 368.5h1M1 369.5h1M2 370.5h1M3 370.5h1M1 370.5h1M1 373.5h1M3 374.5h1M3 375.5h1M1 375.5h1M1 376.5h1M3 378.5h1M2 379.5h1M3 380.5h1M1 380.5h1M3 381.5h1M3 382.5h1M3 386.5h1M1 386.5h1M3 392.5h1M1 395.5h1M1 396.5h1M3 399.5h1M1 400.5h1M3 402.5h1M1 405.5h1M3 407.5h1M1 412.5h1M3 413.5h1M1 416.5h1M1 417.5h1M1 418.5h1M3 421.5h1M1 421.5h1M1 422.5h1M1 424.5h1M1 425.5h1M3 426.5h1M1 428.5h1M3 433.5h1M1 433.5h1M3 434.5h1M1 437.5h1M3 443.5h1M1 448.5h1M1 451.5h1M3 456.5h1M1 456.5h1M3 459.5h1M1 460.5h1M1 463.5h1M1 464.5h1M3 465.5h1M1 465.5h1M3 468.5h1M1 469.5h1M1 470.5h1M3 471.5h1M2 472.5h1M3 472.5h1M1 475.5h1M3 478.5h1M3 479.5h1M3 480.5h1M3 483.5h1M1 483.5h1M3 484.5h1M3 486.5h1M1 487.5h1M1 488.5h1M3 491.5h1M2 492.5h1M3 494.5h1M1 496.5h1M3 497.5h1M2 502.5h1M1 507.5h1M3 512.5h1M1 512.5h1M2 513.5h1M3 513.5h1M3 514.5h1M1 516.5h1M3 520.5h1M3 521.5h1M3 523.5h1M1 523.5h1M1 525.5h1M3 526.5h1M1 526.5h1M1 527.5h1M3 529.5h1M1 529.5h1M1 533.5h1M1 534.5h1M2 537.5h1M1 538.5h1M1 539.5h1M3 541.5h1M1 541.5h1M3 543.5h1M3 545.5h1M2 550.5h1M3 551.5h1M1 551.5h1M3 558.5h1M3 559.5h1M1 559.5h1M3 560.5h1M3 561.5h1M3 562.5h1M1 564.5h1M1 565.5h1M3 566.5h1M3 570.5h1M1 570.5h1M1 578.5h1M3 582.5h1M1 582.5h1M1 587.5h1M1 588.5h1M3 589.5h1M1 589.5h1M3 595.5h1M3 601.5h1M3 605.5h1M3 608.5h1M3 612.5h1M1 612.5h1M3 615.5h1M1 615.5h1M1 616.5h1M1 624.5h1M3 631.5h1M1 631.5h1M1 637.5h1M1 641.5h1M1 642.5h1M1 644.5h1M3 645.5h1M1 646.5h1M1 648.5h1M3 649.5h1M3 650.5h1M1 662.5h1M3 668.5h1M1 674.5h1M1 675.5h1M1 679.5h1M1 680.5h1M1 690.5h1M1 691.5h1M1 693.5h1M3 697.5h1M1 702.5h1M3 707.5h1M1 715.5h1M3 716.5h1M3 724.5h1M3 725.5h1M1 732.5h1M3 733.5h1M3 734.5h1M1 734.5h1M1 736.5h1M3 737.5h1M1 739.5h1M3 750.5h1M3 752.5h1M1 764.5h1M1 768.5h1M1 777.5h1M1 797.5h1M1 820.5h1M1 829.5h1M1 830.5h1M3 873.5h1M3 880.5h1M3 882.5h1M3 901.5h1M3 902.5h1M637 0.5h1M637 2.5h1M639 5.5h1M638 6.5h1M639 6.5h1M639 7.5h1M639 9.5h1M638 10.5h1M639 10.5h1M637 10.5h1M637 11.5h1M638 12.5h1M639 12.5h1M637 12.5h1M639 13.5h1M639 14.5h1M638 16.5h1M638 17.5h1M637 17.5h1M639 18.5h1M639 19.5h1M638 23.5h1M639 24.5h1M637 24.5h1M639 27.5h1M637 42.5h1M637 46.5h1M637 49.5h1M639 50.5h1M637 56.5h1M637 64.5h1M639 69.5h1M637 69.5h1M639 71.5h1M639 76.5h1M639 78.5h1M637 81.5h1M637 89.5h1M639 91.5h1M637 98.5h1M637 101.5h1M637 103.5h1M637 105.5h1M637 123.5h1M637 124.5h1M639 129.5h1M637 132.5h1M639 133.5h1M637 144.5h1M637 152.5h1M639 153.5h1M637 154.5h1M639 155.5h1M637 155.5h1M637 161.5h1M637 166.5h1M637 175.5h1M637 180.5h1M637 190.5h1M637 192.5h1M637 197.5h1M639 200.5h1M637 203.5h1M639 204.5h1M639 205.5h1M637 205.5h1M639 209.5h1M639 213.5h1M639 217.5h1M637 217.5h1M639 218.5h1M637 219.5h1M637 223.5h1M637 224.5h1M637 227.5h1M639 229.5h1M639 230.5h1M639 231.5h1M639 233.5h1M637 233.5h1M639 234.5h1M639 238.5h1M639 240.5h1M639 246.5h1M637 246.5h1M639 251.5h1M639 255.5h1M639 257.5h1M639 258.5h1M639 260.5h1M639 263.5h1M639 265.5h1M637 265.5h1M639 266.5h1M639 268.5h1M639 269.5h1M637 269.5h1M639 270.5h1M637 272.5h1M639 276.5h1M639 277.5h1M639 279.5h1M639 280.5h1M639 281.5h1M639 283.5h1M639 286.5h1M639 292.5h1M639 298.5h1M639 299.5h1M637 310.5h1M639 315.5h1M639 317.5h1M639 318.5h1M637 323.5h1M637 329.5h1M639 330.5h1M639 331.5h1M639 332.5h1M637 336.5h1M637 337.5h1M639 339.5h1M637 339.5h1M637 346.5h1M637 347.5h1M639 350.5h1M639 352.5h1M639 355.5h1M639 358.5h1M639 359.5h1M639 361.5h1M639 369.5h1M637 372.5h1M639 374.5h1M639 378.5h1M637 379.5h1M639 382.5h1M639 384.5h1M639 386.5h1M639 387.5h1M639 389.5h1M639 392.5h1M639 395.5h1M639 397.5h1M639 401.5h1M637 407.5h1M639 409.5h1M639 413.5h1M637 417.5h1M639 419.5h1M639 420.5h1M639 421.5h1M639 422.5h1M639 429.5h1M639 439.5h1M639 442.5h1M639 446.5h1M637 446.5h1M637 447.5h1M639 452.5h1M637 457.5h1M639 460.5h1M637 462.5h1M639 465.5h1M639 466.5h1M639 468.5h1M639 469.5h1M637 469.5h1M639 472.5h1M639 473.5h1M639 475.5h1M639 481.5h1M639 491.5h1M639 495.5h1M639 497.5h1M639 499.5h1M639 501.5h1M639 503.5h1M639 504.5h1M639 513.5h1M637 514.5h1M639 516.5h1M639 518.5h1M639 519.5h1M639 524.5h1M639 528.5h1M639 529.5h1M639 536.5h1M639 537.5h1M637 539.5h1M639 541.5h1M637 541.5h1M639 544.5h1M637 550.5h1M639 553.5h1M639 554.5h1M637 554.5h1M639 558.5h1M637 558.5h1M637 564.5h1M637 567.5h1M639 572.5h1M639 576.5h1M639 581.5h1M639 585.5h1M639 589.5h1M639 592.5h1M639 594.5h1M637 594.5h1M639 596.5h1M637 596.5h1M639 597.5h1M637 597.5h1M637 599.5h1M639 600.5h1M639 601.5h1M637 604.5h1M639 607.5h1M639 609.5h1M639 611.5h1M639 612.5h1M639 616.5h1M639 618.5h1M639 620.5h1M637 621.5h1M639 622.5h1M639 626.5h1M639 630.5h1M639 631.5h1M639 637.5h1M639 640.5h1M637 640.5h1M639 643.5h1M639 644.5h1M637 645.5h1M639 647.5h1M637 647.5h1M639 651.5h1M639 653.5h1M639 657.5h1M637 657.5h1M639 659.5h1M637 659.5h1M639 665.5h1M639 667.5h1M639 670.5h1M639 676.5h1M639 677.5h1M639 682.5h1M639 686.5h1M639 688.5h1M639 689.5h1M639 690.5h1M639 692.5h1M639 693.5h1M639 695.5h1M639 699.5h1M637 701.5h1M639 702.5h1M637 703.5h1M637 705.5h1M639 706.5h1M639 708.5h1M639 709.5h1M639 713.5h1M639 715.5h1M637 715.5h1M637 717.5h1M639 720.5h1M637 722.5h1M639 726.5h1M639 727.5h1M639 731.5h1M639 735.5h1M637 735.5h1M639 739.5h1M637 740.5h1M637 742.5h1M638 742.5h1M639 743.5h1M637 745.5h1M639 745.5h1M638 746.5h1M638 752.5h1M637 756.5h1M639 757.5h1M637 758.5h1M638 758.5h1M639 758.5h1M637 759.5h1M639 759.5h1M639 760.5h1M637 763.5h1M637 767.5h1M637 769.5h1M639 771.5h1M638 772.5h1M637 773.5h1M639 773.5h1M637 775.5h1M637 779.5h1M639 779.5h1M639 783.5h1M639 784.5h1M639 785.5h1M639 788.5h1M636 792.5h1M638 794.5h1M638 807.5h1M638 811.5h1M638 814.5h1M636 821.5h1M636 824.5h1M638 834.5h1M636 837.5h1M638 838.5h1M636 846.5h1M636 849.5h1M636 855.5h1M636 892.5h1"/>
  </g>
  <!-- /SCAN-EDGES -->

  <!-- page number -->
  <text class="serif" x="307.3" y="37.9" font-size="11.6" textLength="15.6" lengthAdjust="spacingAndGlyphs" stroke="#111" stroke-width="0.2">100</text>

  <!-- FRAME -->
  <g id="frame" fill="none">
    <path d="M113 94.75H583.8Q584.9 94.85 585 96" stroke="#3a3a3a" stroke-width="1.2" fill="none"/>
    <line x1="585.2" y1="95" x2="585.1" y2="108.5" stroke="#a0a0a0" stroke-width="1.6" stroke-dasharray="3.2 0.8 4 0.6"/>
    <path d="M584.5 103.5v2.5" stroke="#555" stroke-width="1"/>
    <line x1="584.5" y1="108" x2="584.5" y2="623" stroke="#4c4c4c" stroke-width="1"/>
    <line x1="584.3" y1="623" x2="584.0" y2="750" stroke="#aaaaaa" stroke-width="1.8"/>
    <line x1="583.6" y1="750" x2="583.5" y2="822.8" stroke="#555555" stroke-width="1"/>
    <line x1="112.2" y1="822.0" x2="180" y2="822.06" stroke="#9a9a9a" stroke-width="1.1"/>
    <line x1="180" y1="822.06" x2="584" y2="822.4" stroke="#555" stroke-width="1.1"/>
    <line x1="113.5" y1="94.5" x2="113.5" y2="379" stroke="#585858" stroke-width="1"/>
    <line x1="113.5" y1="379" x2="113.5" y2="435" stroke="#a8a8a8" stroke-width="1"/>
    <line x1="113.5" y1="435" x2="113.4" y2="590" stroke="#555555" stroke-width="1"/>
    <line x1="113.4" y1="590" x2="113.4" y2="604.5" stroke="#777777" stroke-width="0.9" stroke-dasharray="1.2 2.2"/>
    <line x1="113.1" y1="604.5" x2="113.0" y2="684" stroke="#a6a6a6" stroke-width="1.9"/>
    <line x1="112.6" y1="684" x2="112.6" y2="822" stroke="#959595" stroke-width="1"/>
  </g>

  <!-- title -->
  <text class="b" x="119.5" y="104.2" font-size="9.9" textLength="141.3" lengthAdjust="spacingAndGlyphs">Чертеж межевания территории</text>
  <text class="b" x="119.5" y="115.1" font-size="9.9" textLength="42.4" lengthAdjust="spacingAndGlyphs">М 1: 1 000</text>

  <!-- NORTH -->
  <g id="north">
    <text class="serif" x="125.9" y="175.1" font-size="6.6" font-weight="bold" font-style="italic" fill="#111" stroke="#111" stroke-width="0.3">N</text>
    <line x1="128.35" y1="177" x2="128.5" y2="194" stroke="#222" stroke-width="0.9"/>
    <ellipse cx="128.4" cy="182.2" rx="1.0" ry="1.3" fill="#222"/>
    <ellipse cx="128.4" cy="185.7" rx="1.1" ry="1.0" fill="#111"/>
    <path d="M128.3 176.2 L128.8 181 L129.2 183.2 L128.8 184.4 L129.3 185.6 L129.1 187 L128.7 188 L128.9 190.2 L129.6 193.5 L130.0 196.7 L126.5 197.0 L127.6 193.5 L127.9 190.2 L127.9 188 L127.5 187 L127.4 185.6 L127.8 184.4 L127.5 183.2 L127.9 181 Z" fill="#1a1a1a"/>
  </g>

  <!-- LINES -->
  <g id="thin-lines">
    <line class="thin" x1="439" y1="199.5" x2="573" y2="199.5"/>
    <line x1="126.5" y1="380" x2="126.5" y2="600" stroke="#b4b4b4" stroke-width="1"/>
    <line x1="126.5" y1="386" x2="126.5" y2="600" stroke="#777" stroke-width="1" stroke-dasharray="1.2 5.2"/>
    <path d="M126.5 600v4.6M126.5 606v4.6" stroke="#aaa" stroke-width="1" fill="none"/>
    <path d="M126.5 612.8v1.1M126.5 619.5v1" stroke="#999" stroke-width="1" fill="none"/>
    <polyline class="thin" points="472.5,211 472.5,301.5 535,301.5"/>
    <line class="thin" x1="479.5" y1="235.3" x2="473.3" y2="289"/>
    <!-- leaders top-right -->
    <line class="thin" x1="469" y1="199.4" x2="479.4" y2="204.8"/>
    <line class="thin" x1="442.5" y1="234.8" x2="459" y2="232.2"/>
    <line class="thin" x1="435" y1="249.4" x2="454.4" y2="241"/>
    <line class="thin" x1="456.3" y1="239.4" x2="462.5" y2="244.1"/>
    <line class="thin" x1="447" y1="273.2" x2="459.7" y2="273.6"/>
    <line x1="348" y1="222" x2="410" y2="222" stroke="#666" stroke-width="0.6"/>
    <path d="M361 222h1M370 222h1M391 222h1.5M401 222h1M407 222h1" stroke="#444" stroke-width="0.8"/>
    <line x1="410" y1="222" x2="459" y2="230.2" stroke="#555" stroke-width="0.6" stroke-dasharray="6 2"/>
    <line x1="459" y1="230.2" x2="465" y2="231.8" stroke="#666" stroke-width="0.5"/>
    <!-- leaders bottom-left -->
    <line class="thin" x1="138.8" y1="549.8" x2="146.7" y2="552.4"/>
    <line class="thin" x1="152.1" y1="583" x2="155.4" y2="592.3" stroke-dasharray="2.5 1.2"/>
    <line x1="159.5" y1="563.35" x2="231" y2="563.35" stroke="#111" stroke-width="0.95"/>
    <line class="thin" x1="159.5" y1="563.3" x2="138.3" y2="577.5"/>
  </g>
  <g id="thick-lines">
    <line class="thick" x1="126.2" y1="412.1" x2="469" y2="199.4"/>
    <line class="thick" x1="126.2" y1="472.3" x2="564.6" y2="199.3"/>
    <line class="thick" x1="468.8" y1="199.4" x2="446.6" y2="272.6"/>
    <line class="thick" x1="459.1" y1="232" x2="512.3" y2="199.3"/>
    <line class="thick" x1="456.3" y1="239.8" x2="521.6" y2="199.3"/>
    <line class="thick" x1="126.5" y1="518" x2="152.1" y2="583"/>
    <line class="thick" x1="125.9" y1="558.3" x2="138.8" y2="549.8"/>
    <line class="thick" x1="125.9" y1="599.2" x2="152.1" y2="583"/>
  </g>

  <!-- LABELS -->
  <g id="labels">
    <text class="it" x="440.1" y="193.9" font-size="8.6" textLength="125.9" lengthAdjust="spacingAndGlyphs">Линия совмещения с листом 83</text>
    <text class="it" transform="translate(123.4 590.4) rotate(-90)" font-size="8.6" textLength="126" lengthAdjust="spacingAndGlyphs">Линия совмещения с листом 85</text>
    <text class="b" transform="translate(239.2 259.6) rotate(-31.4)" font-size="9">86:08:0010301:9004</text>
    <text class="b" transform="translate(254.7 278.9) rotate(-31.4)" font-size="9">86:08:0010301:1761</text>
    <text class="b" transform="translate(268.5 303.3) rotate(-31.4)" font-size="9">86:08:0010301:9004</text>
    <text class="b" transform="translate(250.5 428.0) rotate(-31.4)" font-size="9">86:08:0010301:9004</text>
    <text class="b" x="329.2" y="214.5" font-size="9.6" textLength="99.3" lengthAdjust="spacingAndGlyphs">86:08:0000000:467:ЗУ1</text>
    <text class="b" x="452.8" y="313.2" font-size="9.6" textLength="100" lengthAdjust="spacingAndGlyphs">86:08:0000000:467:ЗУ2</text>
    <text class="b" x="166" y="556.2" font-size="9.6" textLength="100.4" lengthAdjust="spacingAndGlyphs">86:08:0000000:467:ЗУ2</text>
    <text class="b i" style="stroke-width:0.55" x="429.3" y="270.4" font-size="11" textLength="83.7" lengthAdjust="spacingAndGlyphs">86:08:0010301</text>
    <text class="n" x="480.5" y="210.3" font-size="6.1">70</text>
    <text x="463.6" y="221" font-size="6" font-weight="bold" stroke="#fff" stroke-width="1.4" fill="#fff">69</text>
    <text class="b" x="463.6" y="221" font-size="6">69</text>
    <text class="b" style="stroke-width:0.45" x="435.6" y="237.6" font-size="6.6">40</text>
    <text class="b" style="stroke-width:0.45" x="427.1" y="254.8" font-size="6.6">39</text>
    <text class="n" x="463.1" y="249.6" font-size="6.5">80</text>
    <text class="n" x="461.2" y="276.8" font-size="6.1">79</text>
    <text class="n" x="149.0" y="557.6" font-size="6.4">55</text>
    <text class="n" x="153.9" y="600.8" font-size="6.2">56</text>
  </g>
</svg>
</body>
</html>
